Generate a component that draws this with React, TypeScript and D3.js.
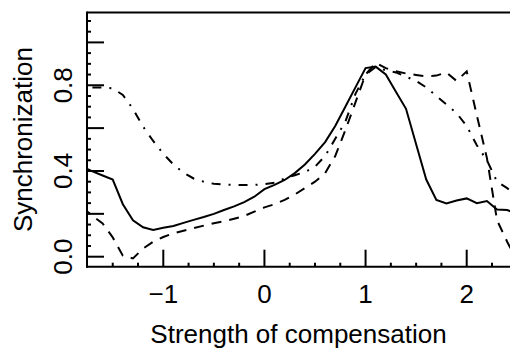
import React from "react";
import * as d3 from "d3";

const xGrid = [
  -1.8, -1.7, -1.6, -1.5, -1.4, -1.3, -1.2, -1.1, -1.0, -0.9, -0.8, -0.7, -0.6, -0.5, -0.4,
  -0.3, -0.2, -0.1, 0.0, 0.1, 0.2, 0.3, 0.4, 0.5, 0.6, 0.7, 0.8, 0.9, 1.0, 1.1, 1.2, 1.3,
  1.4, 1.5, 1.6, 1.7, 1.8, 1.9, 2.0, 2.1, 2.2, 2.3, 2.4, 2.5,
];

const solidValues = [
  0.42, 0.398, 0.379, 0.36, 0.245, 0.17, 0.137, 0.125, 0.135, 0.143, 0.158, 0.172, 0.185, 0.2,
  0.218, 0.235, 0.255, 0.28, 0.315, 0.335, 0.358, 0.39, 0.43, 0.48, 0.535, 0.61, 0.7, 0.79,
  0.88, 0.887, 0.85, 0.77, 0.69, 0.525, 0.36, 0.265, 0.248, 0.262, 0.272, 0.25, 0.26, 0.22,
  0.218, 0.2,
];

const dashedValues = [
  0.23, 0.19, 0.155, 0.09, 0.005, -0.008, 0.038, 0.07, 0.092, 0.109, 0.121, 0.133, 0.145,
  0.156, 0.165, 0.177, 0.19, 0.21, 0.23, 0.245, 0.265, 0.29, 0.32, 0.35, 0.39, 0.47, 0.59,
  0.72, 0.85, 0.905, 0.88, 0.865, 0.855, 0.848, 0.842, 0.845, 0.86, 0.82, 0.865, 0.66, 0.46,
  0.17, 0.07, -0.02,
];

const dashDotValues = [
  0.79, 0.79, 0.79, 0.785, 0.755, 0.69, 0.607, 0.54, 0.48, 0.43, 0.392, 0.365, 0.35, 0.34,
  0.337, 0.335, 0.335, 0.335, 0.338, 0.345, 0.365, 0.38, 0.395, 0.42, 0.47, 0.55, 0.63, 0.76,
  0.85, 0.885, 0.87, 0.86, 0.84, 0.82, 0.79, 0.75, 0.71, 0.67, 0.61, 0.52, 0.45, 0.35, 0.32,
  0.28,
];

const xMajorTicks = [-1, 0, 1, 2];
const xTickLabels = ["\u22121", "0", "1", "2"];
const xMinorTicks = [-1.5, -1.25, -0.75, -0.5, -0.25, 0.25, 0.5, 0.75, 1.25, 1.5, 1.75, 2.25];
const yMajorTicks = [0, 0.2, 0.4, 0.6, 0.8, 1.0];
const yLabelTicks = [0, 0.4, 0.8];
const yTickLabels = ["0.0", "0.4", "0.8"];
const yMinorTicks = [0.05, 0.1, 0.15, 0.25, 0.3, 0.35, 0.45, 0.5, 0.55, 0.65, 0.7, 0.75, 0.85, 0.9, 0.95, 1.05, 1.1];

const W = 510;
const H = 349;
const left = 87;
const top = 12.5;
const bottom = 266.7;
const right = 520;

export default function App() {
  const x = d3.scaleLinear().domain([-1, 2]).range([163.3, 466.7]);
  const y = d3.scaleLinear().domain([0, 1]).range([256.7, 42.4]);

  const mk = (vals: number[]) =>
    d3
      .line<number>()
      .x((_, i) => x(xGrid[i]))
      .y((d) => y(d))(vals) as string;

  const font = "'Liberation Sans', Arial, sans-serif";

  return (
    <svg
      width={W}
      height={H}
      style={{ position: "absolute", left: 0, top: 0, background: "#fff" }}
      fontFamily={font}
    >
      <defs>
        <clipPath id="plotclip">
          <rect x={left} y={top} width={right - left} height={bottom - top} />
        </clipPath>
      </defs>
      <g clipPath="url(#plotclip)" fill="none" stroke="#000" strokeWidth={2}>
        <path d={mk(solidValues)} />
        <path d={mk(dashedValues)} strokeDasharray="10,8" />
        <path d={mk(dashDotValues)} strokeDasharray="2,8,9,8" />
      </g>
      {/* frame */}
      <g stroke="#000" strokeWidth={2} fill="none">
        <line x1={left} x2={right} y1={top} y2={top} />
        <line x1={left} x2={left} y1={top - 1} y2={bottom + 1} />
        <line x1={left - 1} x2={right} y1={bottom} y2={bottom} />
      </g>
      {/* ticks */}
      <g stroke="#000" strokeWidth={2}>
        {xMajorTicks.map((t) => (
          <line key={"xM" + t} x1={x(t)} x2={x(t)} y1={bottom} y2={bottom - 17} />
        ))}
        {xMinorTicks.map((t) => (
          <line key={"xm" + t} x1={x(t)} x2={x(t)} y1={bottom} y2={bottom - 4} />
        ))}
        {yMajorTicks.map((t) => (
          <line key={"yM" + t} x1={left} x2={left + 17} y1={y(t)} y2={y(t)} />
        ))}
        {yMinorTicks.map((t) => (
          <line key={"ym" + t} x1={left} x2={left + 4} y1={y(t)} y2={y(t)} />
        ))}
      </g>
      {/* tick labels */}
      <g fontSize={26} fill="#000">
        {xMajorTicks.map((t, i) => (
          <text key={"xl" + t} x={x(t)} y={303} textAnchor="middle">
            {xTickLabels[i]}
          </text>
        ))}
        {yLabelTicks.map((t, i) => (
          <text
            key={"yl" + t}
            transform={`translate(72,${y(t)}) rotate(-90)`}
            textAnchor="middle"
          >
            {yTickLabels[i]}
          </text>
        ))}
        <text x={(left + W) / 2} y={343} textAnchor="middle">
          Strength of compensation
        </text>
        <text transform={`translate(31.5,${(top + bottom) / 2}) rotate(-90)`} textAnchor="middle">
          Synchronization
        </text>
      </g>
    </svg>
  );
}
